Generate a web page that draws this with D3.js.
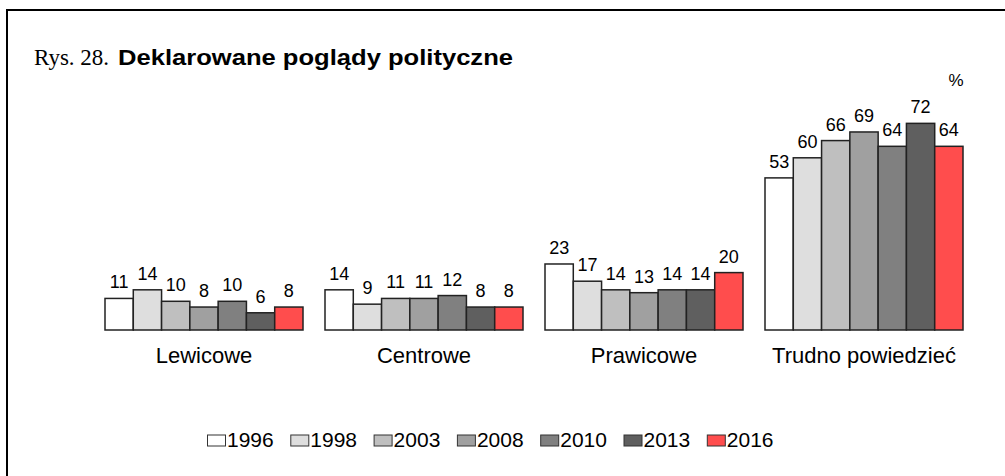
<!DOCTYPE html>
<html>
<head>
<meta charset="utf-8">
<script src="https://cdn.jsdelivr.net/npm/d3@7"></script>
<style>
  body { margin: 0; background: #fff; }
  text { font-family: "Liberation Sans", Arial, sans-serif; fill: #000; }
</style>
</head>
<body>
<div id="chart"></div>
<script>
// data
const categories = ["Lewicowe", "Centrowe", "Prawicowe", "Trudno powiedzieć"];
const years = ["1996", "1998", "2003", "2008", "2010", "2013", "2016"];
const values = {
    "1996": [11, 14, 23, 53],
    "1998": [14, 9, 17, 60],
    "2003": [10, 11, 14, 66],
    "2008": [8, 11, 13, 69],
    "2010": [10, 12, 14, 64],
    "2013": [6, 8, 14, 72],
    "2016": [8, 8, 20, 64]
};
const colors = ["#ffffff", "#dedede", "#bfbfbf", "#a0a0a0", "#808080", "#5f5f5f", "#ff4d4d"];

const width = 1005, height = 476;
const baseY = 330;

const svg = d3.select('#chart')
    .append('svg')
    .attr('width', width)
    .attr('height', height);

// frame
svg.append('rect')
    .attr('x', 7).attr('y', 10)
    .attr('width', 1010).attr('height', 480)
    .attr('fill', 'none')
    .attr('stroke', '#000')
    .attr('stroke-width', 2);

// title
svg.append('text')
    .attr('x', 34).attr('y', 65)
    .style('font-family', '"Liberation Serif", "Times New Roman", serif')
    .style('font-size', '23px')
    .text('Rys. 28.');
svg.append('text')
    .attr('x', 118).attr('y', 65)
    .attr('textLength', 395)
    .attr('lengthAdjust', 'spacingAndGlyphs')
    .style('font-weight', 'bold')
    .style('font-size', '22px')
    .text('Deklarowane poglądy polityczne');

svg.append('text')
    .attr('x', 956).attr('y', 86)
    .attr('text-anchor', 'middle')
    .style('font-size', '17px')
    .text('%');

const x0 = d3.scaleBand()
    .domain(categories)
    .range([105, 963])
    .paddingInner(0.1)
    .paddingOuter(0);

const x1 = d3.scaleBand()
    .domain(years)
    .range([0, x0.bandwidth()]);

const y = d3.scaleLinear()
    .domain([0, 100])
    .range([baseY, baseY - 287]);

const rows = [];
categories.forEach((c, ci) => {
    years.forEach((yr, yi) => {
        rows.push({cat: c, year: yr, value: values[yr][ci], color: colors[yi]});
    });
});

const groups = svg.append('g');

groups.selectAll('rect.bar')
    .data(rows)
    .enter()
    .append('rect')
        .attr('class', 'bar')
        .attr('x', d => x0(d.cat) + x1(d.year))
        .attr('y', d => y(d.value))
        .attr('width', x1.bandwidth())
        .attr('height', d => y(0) - y(d.value))
        .style('fill', d => d.color)
        .style('stroke', '#222')
        .style('stroke-width', 1.5);

groups.selectAll('text.val')
    .data(rows)
    .enter()
    .append('text')
        .attr('class', 'val')
        .attr('x', d => x0(d.cat) + x1(d.year) + x1.bandwidth() / 2)
        .attr('y', d => y(d.value) - 10)
        .attr('text-anchor', 'middle')
        .style('font-size', '18px')
        .text(d => d.value);

// category labels
svg.selectAll('text.cat')
    .data(categories)
    .enter()
    .append('text')
        .attr('class', 'cat')
        .attr('x', d => x0(d) + x0.bandwidth() / 2)
        .attr('y', 363)
        .attr('text-anchor', 'middle')
        .style('font-size', '22px')
        .text(d => d);

// legend
const legend = svg.append('g')
    .attr('transform', 'translate(207,0)');

const item = legend.selectAll('g')
    .data(years)
    .enter()
    .append('g')
        .attr('transform', (d, i) => `translate(${i * 83.3},0)`);

item.append('rect')
    .attr('x', 0.5).attr('y', 435)
    .attr('width', 18).attr('height', 11)
    .style('fill', (d, i) => colors[i])
    .style('stroke', '#333')
    .style('stroke-width', 1);

item.append('text')
    .attr('x', 20).attr('y', 447)
    .style('font-size', '21px')
    .text(d => d);
</script>
</body>
</html>
